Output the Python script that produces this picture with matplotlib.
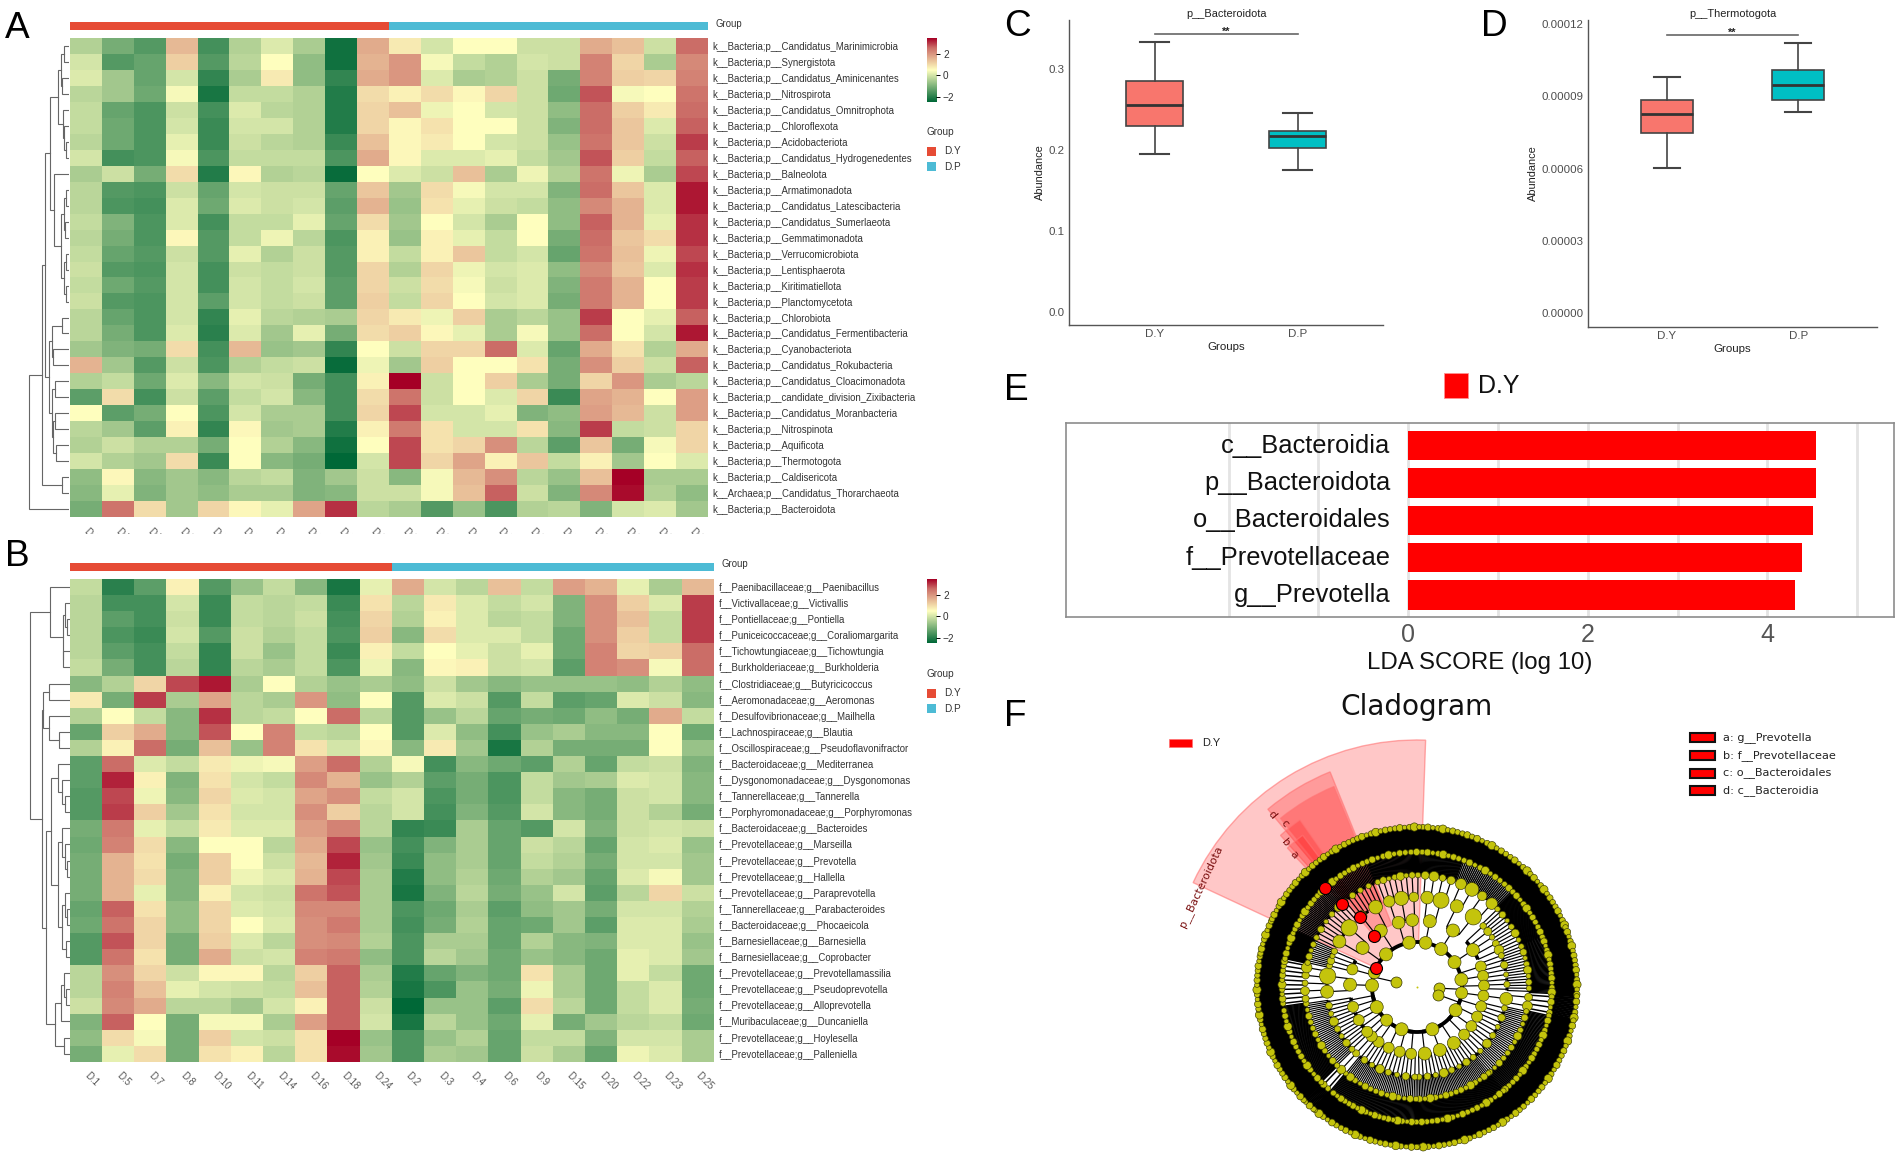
import numpy as np
import matplotlib
matplotlib.use("Agg")
import matplotlib.pyplot as plt
from matplotlib.colors import LinearSegmentedColormap, ListedColormap
from matplotlib.collections import LineCollection
from matplotlib.patches import Wedge, Rectangle
from matplotlib.transforms import Bbox

plt.rcParams['font.family'] = ['Liberation Sans', 'DejaVu Sans']

W, H = 1902, 1156

samples = ["D.1", "D.5", "D.7", "D.8", "D.10", "D.11", "D.14", "D.16", "D.18", "D.24",
           "D.2", "D.3", "D.4", "D.6", "D.9", "D.15", "D.20", "D.22", "D.23", "D.25"]
sample_group = [0] * 10 + [1] * 10
group_names = ["D.Y", "D.P"]

rows_a = ["Candidatus_Marinimicrobia", "Synergistota", "Candidatus_Aminicenantes", "Nitrospirota",
          "Candidatus_Omnitrophota", "Chloroflexota", "Acidobacteriota", "Candidatus_Hydrogenedentes",
          "Balneolota", "Armatimonadota", "Candidatus_Latescibacteria", "Candidatus_Sumerlaeota",
          "Gemmatimonadota", "Verrucomicrobiota", "Lentisphaerota", "Kiritimatiellota", "Planctomycetota",
          "Chlorobiota", "Candidatus_Fermentibacteria", "Cyanobacteriota", "Candidatus_Rokubacteria",
          "Candidatus_Cloacimonadota", "candidate_division_Zixibacteria", "Candidatus_Moranbacteria",
          "Nitrospinota", "Aquificota", "Thermotogota", "Caldisericota", "Candidatus_Thorarchaeota",
          "Bacteroidota"]
labels_a = ["k__Bacteria;p__" + r for r in rows_a]
labels_a[28] = "k__Archaea;p__Candidatus_Thorarchaeota"

heat_a = [
 [-.4,-1.1,-1.5,1.5,-1.7,-.4,.1,-.5,-2.3,1.7,.8,0,.5,.5,-.1,-.1,1.7,1.4,-.1,2.6],
 [0,-1.5,-1.3,1.2,-1.5,-.3,.5,-.8,-2.3,1.6,2.0,.4,-.2,-.4,0,-.1,2.3,1.1,-.5,2.2],
 [.1,-.6,-1.3,0,-1.9,-.5,.8,-.8,-1.9,1.7,2.0,.1,-.5,-.4,-.1,-1.1,2.3,1.2,1.1,2.3],
 [-.3,-.6,-1.2,.4,-2.2,-.2,-.2,-.4,-2.1,1.0,.7,1.0,.6,1.1,-.1,-1.2,2.8,.4,.5,2.5],
 [-.2,-1.3,-1.6,-.1,-1.7,.1,-.3,-.4,-2.1,1.1,1.4,.3,.5,0,-.1,-.8,2.6,1.2,.8,2.6],
 [-.2,-1.2,-1.6,0,-1.8,0,0,-.4,-2.1,1.1,.6,.9,.5,.5,-.1,-1.0,2.6,1.3,.1,2.7],
 [-.3,-1.2,-1.6,.2,-1.8,-.1,-.3,-.4,-1.8,1.4,.6,.8,.5,0,-.1,-.7,2.5,1.3,-.1,3.0],
 [0,-1.7,-1.6,.4,-1.6,-.2,-.2,-.2,-1.6,1.7,.6,.1,.1,.2,-.2,-.6,2.8,1.2,-.2,2.7],
 [-.5,-.1,-1.1,1.0,-2.1,.6,-.4,-.3,-2.4,.5,.1,-.1,1.4,-.5,.3,-.4,2.5,.3,-.5,2.9],
 [-.3,-1.5,-1.6,-.1,-1.3,0,-.1,-.1,-1.3,1.3,-.6,1.0,.4,0,0,-1.0,2.6,1.3,.1,3.3],
 [-.3,-1.6,-1.7,.1,-1.2,.1,-.1,0,-1.4,1.6,-.7,.9,.2,-.1,-.2,-.8,2.2,1.6,.1,3.3],
 [-.2,-1.0,-1.6,.1,-1.7,-.2,-.2,.2,-1.3,1.0,-.6,.5,0,-.5,.5,-.8,2.7,1.6,.2,3.1],
 [-.3,-1.1,-1.6,.6,-1.5,-.2,.3,-.3,-1.6,.7,-.7,.7,.2,-.2,.5,-1.1,2.6,1.3,1.0,3.1],
 [-.2,-1.3,-1.5,-.1,-1.5,.2,-.4,-.1,-1.5,.7,-.2,.7,1.3,-.2,0,-1.3,2.5,1.4,.3,2.9],
 [-.1,-1.5,-1.6,0,-1.7,-.1,-.2,-.1,-1.5,1.1,-.4,1.1,.3,0,.1,-.8,2.2,1.3,.1,3.1],
 [-.2,-1.2,-1.5,0,-1.7,0,-.2,0,-1.4,1.1,-.1,1.0,.4,-.1,.1,-1.0,2.4,1.6,.5,3.0],
 [-.1,-1.5,-1.6,0,-1.4,0,-.2,-.1,-1.4,1.2,-.2,1.1,.5,0,.1,-1.1,2.4,1.6,.5,3.0],
 [-.3,-1.3,-1.6,0,-1.9,.2,-.3,-.4,-.5,1.1,.8,.3,1.2,-.5,-.3,-.7,3.0,.5,.2,2.7],
 [-.3,-1.1,-1.6,.1,-2.0,.1,-.6,.2,-1.1,1.0,1.2,.6,.2,-.5,.4,-.7,2.6,.5,0,3.3],
 [-.6,-1.0,-1.1,1.0,-1.7,1.5,-.7,-.6,-1.9,.5,-.1,1.1,1.1,2.6,.1,-1.3,1.7,.9,-.4,1.7],
 [1.6,-.6,-1.5,-.1,-1.6,-.4,-.2,-.1,-2.4,.3,-.6,1.2,.5,.5,.9,-1.1,2.1,1.2,-.1,2.7],
 [-.4,-.2,-1.2,.1,-.9,0,-.1,-1.1,-1.7,.7,3.5,-.1,.5,1.2,-.5,-1.1,1.1,2.0,-.5,-.3],
 [-1.4,1.0,-1.7,-.1,-1.4,-.2,0,-.9,-1.7,1.0,2.5,-.1,.5,.1,1.1,-1.8,1.8,1.6,.5,1.9],
 [.5,-1.4,-1.1,.5,-1.6,0,-.5,-.5,-1.7,1.1,2.9,0,0,.2,-1.0,-.8,1.9,1.5,-.1,1.9],
 [-.3,-.6,-1.4,.7,-1.9,.6,-.6,-.5,-2.1,.7,2.4,.9,0,0,.9,-.9,3.0,-.2,-.1,1.1],
 [-.4,-.1,-.4,-.4,-1.1,.5,-.4,-.9,-2.3,.5,2.9,.9,1.1,2.1,-.3,-1.4,1.3,-1.1,.4,1.1],
 [0,-.4,-.6,1.0,-1.8,.5,-.9,-1.1,-2.5,0,2.9,1.1,1.8,.7,1.3,-.2,.7,-.6,.5,.1],
 [-.8,.6,-.9,-.6,-.9,-.3,-.2,-1.0,-.6,-.1,-.9,.4,1.5,2.1,-.3,-.7,1.4,3.5,-.5,-.5],
 [-.9,.2,-1.0,-.6,-.8,-.5,-.5,-1.0,-.9,-.1,-.1,.4,1.4,2.7,-.1,-1.0,2.2,3.4,-.4,-.8],
 [-1.1,2.5,1.0,-.6,1.1,.6,.2,1.8,3.1,-.3,-.5,-1.5,-.7,-1.6,-.4,-.3,-1.0,0,.1,-.6],
]

labels_b = ["f__Paenibacillaceae;g__Paenibacillus", "f__Victivallaceae;g__Victivallis",
            "f__Pontiellaceae;g__Pontiella", "f__Puniceicoccaceae;g__Coraliomargarita",
            "f__Tichowtungiaceae;g__Tichowtungia", "f__Burkholderiaceae;g__Burkholderia",
            "f__Clostridiaceae;g__Butyricicoccus", "f__Aeromonadaceae;g__Aeromonas",
            "f__Desulfovibrionaceae;g__Mailhella", "f__Lachnospiraceae;g__Blautia",
            "f__Oscillospiraceae;g__Pseudoflavonifractor", "f__Bacteroidaceae;g__Mediterranea",
            "f__Dysgonomonadaceae;g__Dysgonomonas", "f__Tannerellaceae;g__Tannerella",
            "f__Porphyromonadaceae;g__Porphyromonas", "f__Bacteroidaceae;g__Bacteroides",
            "f__Prevotellaceae;g__Marseilla", "f__Prevotellaceae;g__Prevotella",
            "f__Prevotellaceae;g__Hallella", "f__Prevotellaceae;g__Paraprevotella",
            "f__Tannerellaceae;g__Parabacteroides", "f__Bacteroidaceae;g__Phocaeicola",
            "f__Barnesiellaceae;g__Barnesiella", "f__Barnesiellaceae;g__Coprobacter",
            "f__Prevotellaceae;g__Prevotellamassilia", "f__Prevotellaceae;g__Pseudoprevotella",
            "f__Prevotellaceae;g__Alloprevotella", "f__Muribaculaceae;g__Duncaniella",
            "f__Prevotellaceae;g__Hoylesella", "f__Prevotellaceae;g__Palleniella"]

heat_b = [
 [-.2,-2.0,-1.4,.7,-1.5,-.7,-.2,-.9,-2.2,.2,1.7,0,-.3,1.4,-.2,1.9,1.6,.2,-.5,1.5],
 [-.3,-1.7,-1.7,0,-1.8,-.2,-.3,-.2,-1.8,.9,-.3,.8,.1,-.2,0,-1.0,2.1,1.2,.1,3.0],
 [-.3,-1.4,-1.7,-.1,-1.8,-.2,-.3,-.1,-1.7,1.1,-.4,.7,.1,-.3,-.2,-1.0,2.1,1.4,-.2,3.0],
 [-.3,-1.6,-1.8,0,-1.5,-.1,-.4,-.2,-1.6,1.2,-.9,1.0,.1,.1,-.2,-1.2,2.1,1.2,-.2,3.0],
 [-.3,-1.4,-1.7,-.2,-1.9,-.1,-.7,-.2,-1.8,.7,-.2,.5,.2,-.1,.2,-1.2,2.3,1.1,1.2,2.6],
 [-.2,-1.1,-1.7,-.3,-1.9,-.3,-.5,-.2,-1.6,.3,-.9,.6,.7,-.1,0,-1.4,2.3,2.1,.4,2.6],
 [-.9,-.4,1.1,2.9,3.3,-.5,.5,-.4,-.7,-.5,-.8,-.1,-.6,-.9,-.7,-.7,-.7,-.8,-.4,-.8],
 [.8,-1.1,3.0,-.5,1.8,-.3,-.5,2.0,-.8,.5,-1.5,.1,-.1,-1.5,-.2,-1.4,-1.3,.1,-.1,-.9],
 [-.4,.5,-.2,-.9,3.1,-.3,-.2,.5,2.6,-.3,-1.5,-.7,-.3,-1.3,-1.1,-1.2,-.8,-1.1,1.7,-.2],
 [-1.3,1.2,1.7,-.9,2.8,.5,2.3,-.2,-.3,.5,-1.5,.1,-.8,-1.7,-.7,-.5,-.9,-.9,.5,-1.2],
 [-.4,.7,2.6,-1.1,1.4,-.7,2.3,.9,0,.6,-.9,.8,-.6,-2.2,-.4,-1.1,-1.1,-1.1,.5,-.7],
 [-1.4,2.6,.1,-.2,.8,.3,.4,1.9,2.6,-.4,.4,-1.7,-.9,-1.2,-1.4,-.4,-1.3,-.2,-.1,-1.0],
 [-1.4,3.2,.7,-1.0,.9,0,-.2,2.2,1.6,-.7,-.4,-1.4,-1.1,-1.6,-.2,-.6,-.5,.1,0,-.9],
 [-1.5,2.9,.3,-.9,1.1,.1,0,1.8,2.1,-.2,0,-1.6,-1.1,-1.6,-.2,-.9,-1.1,-.1,0,-.9],
 [-1.5,3.0,1.2,-.6,.9,0,0,2.1,1.2,-.3,0,-1.7,-1.0,-1.5,0,-.9,-1.1,-.1,-.4,-1.1],
 [-1.1,2.4,.2,-.2,.8,.1,.1,1.9,2.3,-.3,-1.9,-1.8,-.5,-1.3,-1.5,0,-1.0,-.1,0,-.1],
 [-1.2,2.3,1.0,-.9,.5,.5,-.3,1.7,2.9,-.7,-1.7,-1.0,-.5,-1.3,-.1,-.3,-1.3,0,.1,-.7],
 [-1.1,1.6,.9,-1.1,1.2,.5,-.1,1.5,3.2,-.6,-1.8,-.8,-.5,-1.3,-.2,-.4,-1.1,0,0,-.6],
 [-1.1,1.6,1.0,-1.0,1.2,.3,.1,1.6,2.9,-.5,-2.1,-.8,-.4,-1.2,-.4,-.6,-1.3,.1,.4,-.6],
 [-1.1,1.6,.2,-1.0,.7,0,-.1,2.5,2.8,-.5,-2.2,-1.0,-.3,-1.1,-.7,0,-1.4,-.3,1.1,-.1],
 [-1.3,2.7,.9,-.8,1.1,.1,0,2.2,2.2,-.5,-1.6,-1.2,-.5,-1.4,-.8,-.6,-1.1,0,0,-.4],
 [-1.2,2.5,1.1,-.8,1.1,.5,.1,2.1,2.4,-.5,-1.7,-1.1,-.4,-1.3,-1.2,-.6,-1.4,.1,.1,-.5],
 [-1.5,2.8,1.1,-1.1,1.2,.1,-.3,2.1,2.2,-.4,-1.6,-.5,-.5,-1.3,-.4,-.9,-1.0,.1,.1,-.7],
 [-1.5,2.5,.9,-1.1,1.7,-.1,0,2.3,2.4,-.8,-1.6,-.3,-.6,-1.2,-.7,-.9,-1.2,.2,.1,-.6],
 [-.3,2.1,1.1,-.1,.6,.6,-.3,1.2,2.7,-.5,-2.1,-1.3,-1.0,-1.2,.9,-.5,-1.2,.2,-.2,-1.2],
 [-.3,2.3,1.4,.2,0,-.1,-.2,1.4,2.7,-.4,-2.2,-1.6,-.7,-1.1,.3,-.5,-1.2,-.2,.1,-1.2],
 [-.1,2.2,1.7,-.3,-.3,-.6,0,.7,2.7,-.1,-2.5,-.7,-.7,-1.4,1.0,-.3,-1.2,-.2,.1,-1.1],
 [-1.0,2.7,.5,-1.1,.4,.4,-.5,1.9,2.7,0,-2.2,-.3,-.7,-1.2,.2,-1.1,-.6,-.3,-.2,-1.2],
 [-.8,1.0,.4,-1.1,1.2,0,-.1,.9,3.5,-.7,-1.6,-.7,-.4,-1.3,-.2,-.2,-1.0,0,0,-.5],
 [-1.1,.2,1.0,-1.1,.9,.7,-.3,.9,3.4,-.6,-1.6,-.5,-.6,-1.3,-.1,-.5,-1.3,.3,.1,-.5],
]

# dendrograms: (merge height, left child, right child); integers are row positions
tree_a = (41, (28, (24, (19, (11, (8, (5, 0, 1), (7, 2, 3)), (6, 4, (5, 5, (3, 6, 7)))),
                         (15, 8, (8, (5, (3, 9, 10), (4, 11, 12)), (5, (3, 13, 14), (3, 15, 16))))),
                    (20, (17, (7, 17, 18), (16, 19, 20)),
                         (17, (14, 21, 22), (16, (14, 23, 24), (13, 25, 26))))),
               (7, 27, 28)), 29)
tree_b = (40, (20, 0, (7, (5, 1, (3, 2, 3)), (7, 4, 5))),
          (28, (27, (21, 6, 7), (21, 8, (11, 9, 10))),
           (24, (19, (12, 11, (8, 12, (5, 13, 14))),
                 (12, (8, 15, (5, 16, (3, 17, 18))), (8, (5, 19, (3, 20, 21)), (4, 22, 23)))),
            (15, (9, (6, 24, (4, 25, 26)), 27), (6, 28, 29)))))

# box plots: whisker low, Q1, median, Q3, whisker high
box_groups = ["D.Y", "D.P"]
bacteroidota_y = [0.195, 0.2302, 0.2555, 0.285, 0.3338]
bacteroidota_p = [0.1754, 0.2026, 0.2175, 0.2232, 0.246]
thermotogota_y = [6.03e-5, 7.48e-5, 8.27e-5, 8.86e-5, 9.82e-5]
thermotogota_p = [8.35e-5, 8.84e-5, 9.47e-5, 1.008e-4, 1.12e-4]

lda_names = ["c__Bacteroidia", "p__Bacteroidota", "o__Bacteroidales", "f__Prevotellaceae", "g__Prevotella"]
lda_scores = [4.54, 4.54, 4.505, 4.385, 4.31]

# cladogram: angular span of each clade and node count on each of the six rings
clade_spans = [(88, 70), (70, 45), (45, 22), (22, -3), (-3, -12), (-12, -50), (-50, -90), (-90, -130),
               (-130, -135), (-135, -172), (-172, -192), (-192, -205), (155, 112), (112, 88)]
clade_counts = [(1, 1, 2, 4, 40, 80), (1, 1, 2, 4, 30, 90), (1, 1, 5, 12, 60, 100), (1, 3, 8, 16, 50, 100),
                (1, 1, 1, 2, 4, 14), (1, 4, 12, 34, 70, 160), (1, 3, 15, 44, 90, 170), (1, 4, 14, 40, 80, 170),
                (1, 1, 1, 1, 2, 8), (1, 6, 14, 34, 80, 170), (1, 1, 2, 5, 10, 70), (1, 2, 4, 12, 40, 60),
                (1, 2, 4, 18, 60, 150), (1, 2, 3, 8, 50, 110)]
ring_radius = [45, 67, 90, 112, 135, 160]
ring_min_node = [12, 11, 6, 5.5, 5.5, 5.5]
ring_line_width = [3.2, 3.0, 2.6, 2.0, 1.5]
radial_line_width = [1.2, 1.2, 1.2, 1.5, 2.2]
bead_scale = [1.0, 1.25, 0.85, 1.05, 1.5, 0.9, 1.15, 1.0]
inner_leaf_angles = [167, -3, -20]
marker_rings = [0, 1, 2, 3, 4]
marker_angles = [154.6, 129.8, 129.4, 132, 133]
shade_outer = [247, 232, 217, 204, 190]
shade_inner = [45, 67, 90, 112, 135]
shade_start = [88, 112, 112.5, 125, 127]
shade_end = [155, 130, 129, 132, 133]
clade_label_text = ["p__Bacteroidota", "d", "c", "b", "a"]
clade_label_radius = [238, 225, 210, 195, 181]
clade_label_angle = [155, 130, 129, 132.5, 133]
clade_label_rotation = [65, -50, -50, -50, -50]
key_text = ["a: g__Prevotella", "b: f__Prevotellaceae", "c: o__Bacteroidales", "d: c__Bacteroidia"]

GROUP_COL = ["#E64B35", "#4DBBD5"]
BOX_COL = ["#F8766D", "#00BFC4"]
hm_cmap = LinearSegmentedColormap.from_list(
    "hm", [(0, "#006837"), (0.5, "#FFFFBF"), (0.85, "#CC6E68"), (1, "#A50026")], N=256)
VMIN, VMAX = -2.5, 3.5

fig = plt.figure(figsize=(W / 100, H / 100), dpi=100, facecolor="white")


def ax_px(l, t, r, b, **kw):
    return fig.add_axes([l / W, 1 - b / H, (r - l) / W, (b - t) / H], **kw)


def px(p):
    return p * 0.72


ov = ax_px(0, 0, W, H, zorder=20)
ov.set_xlim(0, W)
ov.set_ylim(H, 0)
ov.axis("off")
ov.patch.set_alpha(0)


def draw_tree(ax, t):
    if isinstance(t, int):
        return 0, t
    h, a, b = t
    ha, ya = draw_tree(ax, a)
    hb, yb = draw_tree(ax, b)
    ax.plot([ha, h, h, hb], [ya, ya, yb, yb], color="#666666", lw=0.8, solid_joinstyle="miter")
    return h, (ya + yb) / 2


def heatmap(left, right, top, bottom, bar_t, bar_b, data, labels, tree, clip_bottom, group_xy, cb_top, cb_bot, leg_ys):
    data = np.array(data)
    ax = ax_px(left, top, right, bottom)
    ax.imshow(data, cmap=hm_cmap, vmin=VMIN, vmax=VMAX, aspect="auto", interpolation="nearest")
    for s in ax.spines.values():
        s.set_visible(False)
    ax.yaxis.tick_right()
    ax.set_yticks(range(len(labels)))
    ax.set_yticklabels(labels, fontsize=px(9.7), color="#333333")
    ax.tick_params(axis="y", length=0, pad=4)
    ax.set_xticks(range(len(samples)))
    ax.set_xticklabels(samples, rotation=-45, ha="left", va="center", rotation_mode="anchor",
                       fontsize=px(9.7), color="#555555")
    ax.tick_params(axis="x", length=0, pad=9)
    if clip_bottom is not None:
        box = Bbox([[0, H - clip_bottom], [W, H - bottom]])
        for lab in ax.get_xticklabels():
            lab.set_clip_box(box)
            lab.set_clip_on(True)
    bar = ax_px(left, bar_t, right, bar_b)
    bar.imshow([sample_group], cmap=ListedColormap(GROUP_COL), aspect="auto", interpolation="nearest")
    bar.axis("off")
    den = ax_px(left - 45, top, left, bottom)
    draw_tree(den, tree)
    den.set_xlim(45, 0)
    den.set_ylim(len(labels) - 0.5, -0.5)
    den.axis("off")
    ov.text(group_xy[0], group_xy[1], "Group", fontsize=px(9.7), color="#333333", va="center")
    cb = ax_px(926.5, cb_top, 936, cb_bot)
    cb.imshow(np.linspace(VMAX, VMIN, 200)[:, None], cmap=hm_cmap, vmin=VMIN, vmax=VMAX,
              extent=[0, 1, VMIN, VMAX], aspect="auto")
    cb.set_xticks([])
    cb.yaxis.tick_right()
    cb.set_yticks([-2, 0, 2])
    cb.set_yticklabels(["\u22122", "0", "2"], fontsize=px(10), color="#333333")
    cb.tick_params(axis="y", length=3, width=0.7, pad=2)
    for s in cb.spines.values():
        s.set_visible(False)
    ov.text(926.5, leg_ys[0], "Group", fontsize=px(10), color="#333333", va="center")
    for i, yy in enumerate(leg_ys[1:]):
        ov.add_patch(Rectangle((926.5, yy - 4.7), 9.5, 9.4, fc=GROUP_COL[i], ec="none"))
        ov.text(944, yy, group_names[i], fontsize=px(10), color="#333333", va="center")


heatmap(69.5, 707, 38.3, 517, 22, 30, heat_a, labels_a, tree_a, 534, (715, 24), 38, 102, (132, 151.5, 166.5))
heatmap(70, 713.5, 579, 1061.7, 563, 571, heat_b, labels_b, tree_b, None, (721.5, 564), 579, 643, (674, 693.5, 708.5))


def box_panel(l, t, r, b, stats, ylim, ticks, ticklabels, title, sig_y):
    ax = ax_px(l, t, r, b)
    bx = [dict(whislo=s[0], q1=s[1], med=s[2], q3=s[3], whishi=s[4], fliers=[]) for s in stats]
    art = ax.bxp(bx, positions=[1, 2], widths=0.4, patch_artist=True, showfliers=False, capwidths=0.2,
                 boxprops=dict(edgecolor="#444444", linewidth=1.2),
                 whiskerprops=dict(color="#444444", linewidth=1.2),
                 capprops=dict(color="#444444", linewidth=1.5),
                 medianprops=dict(color="#333333", linewidth=2.0))
    for patch, col in zip(art["boxes"], BOX_COL):
        patch.set_facecolor(col)
    ax.set_xlim(0.4, 2.6)
    ax.set_ylim(*ylim)
    ax.set_xticks([1, 2])
    ax.set_xticklabels(box_groups, fontsize=px(11.5), color="#4d4d4d")
    ax.set_yticks(ticks)
    ax.set_yticklabels(ticklabels, fontsize=px(11.5), color="#4d4d4d")
    ax.tick_params(length=0, pad=3)
    ax.spines["top"].set_visible(False)
    ax.spines["right"].set_visible(False)
    for side in ("left", "bottom"):
        ax.spines[side].set_color("#555555")
        ax.spines[side].set_linewidth(1.0)
    ax.set_xlabel("Groups", fontsize=px(11.5), color="#222222", labelpad=2)
    ax.set_ylabel("Abundance", fontsize=px(11), color="#222222", labelpad=3)
    ax.set_title(title, fontsize=px(11), color="#222222", pad=2)
    ax.plot([1, 2], [sig_y, sig_y], color="#666666", lw=1.2)
    ax.annotate("**", (1.5, sig_y), xytext=(0, -2), textcoords="offset points", ha="center", va="bottom",
                fontsize=px(11), fontweight="bold", color="#222222")


box_panel(1069, 20, 1383.5, 325, [bacteroidota_y, bacteroidota_p], (-0.0164, 0.361),
          [0, 0.1, 0.2, 0.3], ["0.0", "0.1", "0.2", "0.3"], "p__Bacteroidota", 0.344)
box_panel(1588, 20, 1877, 326.7, [thermotogota_y, thermotogota_p], (-5.56e-6, 1.217e-4),
          [0, 3e-5, 6e-5, 9e-5, 1.2e-4], ["0.00000", "0.00003", "0.00006", "0.00009", "0.00012"],
          "p__Thermotogota", 1.155e-4)

axe = ax_px(1066, 423, 1894, 617)
axe.set_axisbelow(True)
axe.barh(range(len(lda_names)), lda_scores, height=0.79, color="#FF0000")
axe.set_xlim(-3.81, 5.41)
axe.set_ylim(4.59, -0.61)
axe.set_yticks([])
axe.set_xticks(range(-2, 6))
axe.set_xticklabels(["", "", "0", "", "2", "", "4", ""], fontsize=px(25), color="#555555")
axe.tick_params(axis="x", length=0, pad=4)
axe.grid(axis="x", color="#e4e4e4", lw=2.0)
for s in axe.spines.values():
    s.set_color("#8c8c8c")
    s.set_linewidth(1.2)
for i, name in enumerate(lda_names):
    axe.text(-0.2, i, name, ha="right", va="center", fontsize=px(25.5), color="#111111")
axe.set_xlabel("LDA SCORE (log 10)", fontsize=px(24), color="#111111", labelpad=4)
ov.add_patch(Rectangle((1444, 373), 24, 25, fc="#FF0000", ec="#ff9090", lw=0.6))
ov.text(1478, 386, group_names[0], fontsize=px(25), color="#111111", va="center")

axf = ax_px(1150, 690, 1690, 1156)
axf.set_xlim(1150 - 1417, 1690 - 1417)
axf.set_ylim(987 - 1156, 987 - 690)
axf.axis("off")


def pol(r, a):
    a = np.radians(a)
    return r * np.cos(a), r * np.sin(a)


for ro, ri, a0, a1 in zip(shade_outer, shade_inner, shade_start, shade_end):
    axf.add_patch(Wedge((0, 0), ro, a0, a1, width=ro - ri, fc=(1, 0, 0, 0.22), ec=(1, 0.45, 0.45, 0.6), lw=1.0, zorder=1))

radial = {i: [] for i in range(5)}
arcs = {i: [] for i in range(5)}
nodes = {i: [] for i in range(6)}
sizes = {i: [] for i in range(6)}
for (a0, a1), counts in zip(clade_spans, clade_counts):
    angs = [a0 + (a1 - a0) / n * (np.arange(n) + 0.5) for n in counts]
    for lev in range(6):
        spacing = abs(a1 - a0) / counts[lev] * np.pi / 180 * ring_radius[lev]
        size = float(np.clip(spacing * 0.9, ring_min_node[lev], 13))
        # crowded nodes overlap entirely in the reference: draw one bead per visible position
        stride = max(1, int(np.ceil(size * 0.85 / spacing)))
        shown = angs[lev][::stride]
        nodes[lev].extend(shown.tolist())
        scale = [bead_scale[i % len(bead_scale)] if lev >= 2 else 1.0 for i in range(len(shown))]
        sizes[lev].extend((size * np.array(scale)).tolist())
    for lev in range(5):
        kids, pars = angs[lev + 1], angs[lev]
        owner = np.argmin(np.abs(kids[:, None] - pars[None, :]), axis=1)
        for k, o in zip(kids, owner):
            radial[lev].append([pol(ring_radius[lev], k), pol(ring_radius[lev + 1], k)])
        for j, p in enumerate(pars):
            mine = kids[owner == j]
            if len(mine):
                arcs[lev].append((min(mine.min(), p), max(mine.max(), p)))
for lev, segs in radial.items():
    axf.add_collection(LineCollection(segs, colors="black", linewidths=px(radial_line_width[lev]), zorder=2))
inner = [[pol(22, a), pol(45, a)] for a in inner_leaf_angles]
axf.add_collection(LineCollection(inner, colors="black", linewidths=px(1.2), zorder=2))
for lev, spans in arcs.items():
    segs = []
    for a0, a1 in spans:
        th = np.linspace(a0, a1, 24)
        segs.append(np.column_stack(pol(ring_radius[lev], th)))
    if lev == 0:
        th = np.linspace(0, 360, 181)
        segs.append(np.column_stack(pol(ring_radius[0], th)))
    axf.add_collection(LineCollection(segs, colors="black", linewidths=px(ring_line_width[lev]) * 1.2, zorder=2))
NODE_COL = "#C4C40C"
for lev in range(5, -1, -1):
    xx, yy = pol(ring_radius[lev], np.array(nodes[lev]))
    axf.scatter(xx, yy, s=px(np.array(sizes[lev])) ** 2, c=NODE_COL, edgecolors="#3a3a00", linewidths=0.45,
                zorder=3 + (5 - lev) * 0.1)
xx, yy = pol(22, np.array(inner_leaf_angles))
axf.scatter(xx, yy, s=px(11) ** 2, c=NODE_COL, edgecolors="#333300", linewidths=0.5, zorder=3.6)
axf.scatter([0], [0], s=2, c=NODE_COL, linewidths=0, zorder=3.6)
xx, yy = pol(np.array(ring_radius)[marker_rings], np.array(marker_angles))
axf.scatter(xx, yy, s=px(12) ** 2, c="#FF0000", edgecolors="black", linewidths=0.8, zorder=4)
for t, r, a, rot in zip(clade_label_text, clade_label_radius, clade_label_angle, clade_label_rotation):
    x0, y0 = pol(r, a)
    axf.text(x0, y0, t, rotation=rot, rotation_mode="anchor", ha="center", va="center", color="#7a1010",
             fontsize=px(11), family="DejaVu Sans", zorder=5)

ov.text(1417, 707, "Cladogram", fontsize=px(28), family="DejaVu Sans", ha="center", va="center", color="#111111")
ov.add_patch(Rectangle((1169, 739), 23, 8, fc="#FF0000", ec="#ff7070", lw=0.5))
ov.text(1202, 743.5, group_names[0], fontsize=px(11), color="#222222", va="center")
for t, yy in zip(key_text, [737.7, 755.3, 773, 790.7]):
    ov.add_patch(Rectangle((1690, yy - 4.5), 25, 9, fc="#FF0000", ec="#111111", lw=1.5))
    ov.text(1723, yy, t, fontsize=px(11.3), family="DejaVu Sans", color="#222222", va="center")

for t, x, y in [("A", 5, 28), ("B", 5, 557), ("C", 1004, 27), ("D", 1481, 27), ("E", 1004, 390), ("F", 1004, 716)]:
    ov.text(x, y, t, fontsize=px(37), color="black", va="center", ha="left")

fig.savefig("out.png", dpi=100, facecolor="white")
